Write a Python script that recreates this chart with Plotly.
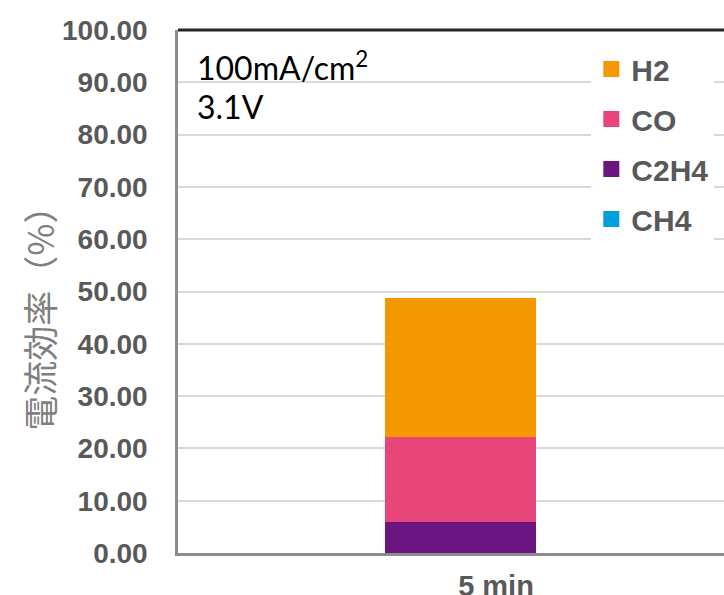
import plotly.graph_objects as go

categories = ["5 min"]
species = ["CH4", "C2H4", "CO", "H2"]
legend_order = ["H2", "CO", "C2H4", "CH4"]
values = {
    "CH4": [0.0],
    "C2H4": [5.9],
    "CO": [16.3],
    "H2": [26.6],
}
colors = {
    "CH4": "#00A0DC",
    "C2H4": "#6A1580",
    "CO": "#E8467B",
    "H2": "#F39800",
}
y_ticks = [0, 10, 20, 30, 40, 50, 60, 70, 80, 90, 100]
y_tick_labels = [f"{v:.2f}" for v in y_ticks]
y_title = "電流効率（%）"

fig = go.Figure()
for s in species:
    fig.add_trace(go.Bar(
        x=categories, y=values[s], name=s,
        marker=dict(color=colors[s], line=dict(width=0)),
        width=0.2375, offset=-0.1746,
        showlegend=False,
    ))
# legend proxies (larger square swatches)
for rank, s in enumerate(legend_order):
    fig.add_trace(go.Scatter(
        x=[None], y=[None], mode="markers", name=s,
        marker=dict(symbol="square", size=16, color=colors[s]),
        legendgroup=s, legendrank=rank + 1, showlegend=True,
    ))

fig.update_layout(
    barmode="stack",
    width=724, height=595,
    margin=dict(l=178, r=0, t=30, b=42),
    paper_bgcolor="white", plot_bgcolor="white",
    font=dict(family="Liberation Sans", color="#595959"),
    legend=dict(
        x=0.757, y=0.975, xanchor="left", yanchor="top",
        traceorder="grouped", tracegroupgap=8,
        bgcolor="white", borderwidth=0,
        font=dict(family="Liberation Sans", size=30, color="#595959", weight="bold"),
        itemsizing="trace", itemwidth=30,
    ),
    xaxis=dict(
        range=[-0.5, 0.3585], showgrid=False, zeroline=False, automargin=False,
        showline=True, linecolor="#8C8C8C", linewidth=2.5,
        ticks="", ticklabelstandoff=5,
        tickfont=dict(family="Liberation Sans", size=29, color="#595959", weight="bold"),
    ),
    yaxis=dict(
        range=[0, 100], tickvals=y_ticks, ticktext=y_tick_labels, automargin=False,
        showgrid=True, gridcolor="#D9D9D9", gridwidth=2,
        zeroline=False, showline=True, linecolor="#8C8C8C", linewidth=2.5,
        ticks="", ticklabelstandoff=22,
        tickfont=dict(family="Liberation Sans", size=28, color="#595959", weight="bold"),
    ),
    shapes=[dict(type="line", xref="paper", yref="paper", x0=0, x1=1, y0=1, y1=1,
                 line=dict(color="#262626", width=3))],
    annotations=[
        dict(text=y_title, xref="paper", yref="paper", x=-0.2546, y=0.465,
             xanchor="center", yanchor="middle", textangle=-90, showarrow=False,
             font=dict(family="Noto Sans CJK JP", size=35, color="#7F7F7F")),
        dict(text="100mA/cm<sup>2</sup>", xref="paper", yref="paper", x=0.031, y=0.975,
             xanchor="left", yanchor="top", showarrow=False,
             font=dict(family="Lato", size=32, color="black")),
        dict(text="3.1V", xref="paper", yref="paper", x=0.031, y=0.895,
             xanchor="left", yanchor="top", showarrow=False,
             font=dict(family="Lato", size=32, color="black")),
    ],
)

fig.write_html("out.html")
